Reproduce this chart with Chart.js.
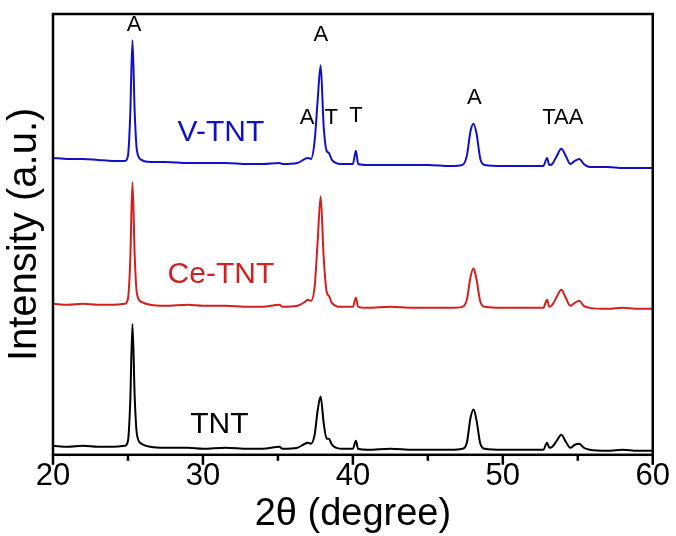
<!DOCTYPE html>
<html>
<head>
<meta charset="utf-8">
<script src="https://cdn.jsdelivr.net/npm/chart.js@4.4.1/dist/chart.umd.min.js"></script>
<style>
  html, body { margin: 0; padding: 0; background: #fff; }
  #wrap { width: 676px; height: 536px; }
</style>
</head>
<body>
<div id="wrap"><canvas id="xrdChart"></canvas></div>
<script>
// 2theta positions (degree)
const twoTheta = [20, 21, 22, 23, 24, 24.8, 25.0, 25.15, 25.3, 25.45, 25.6, 25.9,
  26.5, 27.5, 29, 30, 31.5, 33, 34, 35.1, 35.3, 36.3, 36.8, 37.0, 37.2,
  37.45, 37.65, 37.85, 38.05, 38.25, 38.4, 38.6, 39.2, 40.0, 40.2, 40.35, 41,
  42.5, 44, 45, 46.5, 47.3, 47.6, 47.85, 48.05, 48.25, 48.5, 48.8,
  50, 51.5, 52.7, 52.95, 53.1, 53.3, 53.6, 53.9, 54.2, 54.5, 54.8, 55.1,
  55.4, 55.8, 57, 58, 59, 60];

// intensities (a.u., as stacked in the figure)
const tnt = [9, 8, 9, 8, 8, 9, 14, 52, 130, 57, 20, 11,
  8, 7, 7, 6, 7, 6, 6, 8, 6, 7, 11, 12, 11,
  20, 44, 58, 32, 16, 16, 10, 6, 6, 14, 6, 5,
  6, 5, 5, 5, 6, 12, 37, 45, 34, 11, 6,
  5, 5, 5, 12, 7, 8, 14, 20, 13, 7, 10, 11,
  7, 5, 4, 5, 4, 4];
const ceTnt = [150, 149, 150, 149, 149, 150, 155, 192, 271, 197, 160, 152,
  149, 148, 149, 148, 148, 147, 147, 149, 147, 148, 152, 154, 153,
  167, 212, 257, 197, 162, 158, 151, 147, 147, 156, 147, 146,
  147, 146, 146, 146, 147, 154, 177, 185, 174, 152, 147,
  146, 146, 146, 154, 147, 149, 157, 164, 156, 148, 151, 153,
  148, 146, 145, 146, 145, 145];
const vTnt = [295, 294, 294, 293, 292, 292, 297, 337, 412, 340, 302, 293,
  291, 291, 290, 290, 290, 289, 289, 290, 289, 290, 294, 295, 294,
  312, 352, 387, 327, 302, 300, 293, 289, 289, 302, 289, 288,
  288, 288, 288, 287, 288, 297, 322, 329, 319, 294, 288,
  287, 287, 287, 295, 288, 289, 297, 304, 297, 289, 292, 294,
  289, 286, 286, 285, 285, 285];

const xTicks = [20, 30, 40, 50, 60];

// phase labels: A = anatase, T = titanate
const phaseText = ['A', 'A', 'A', 'T', 'T', 'A', 'TAA'];
const phaseX = [25.4, 37.87, 36.95, 38.55, 40.2, 48.1, 54.0];
const phaseY = [427, 417, 335, 335, 337, 355, 335];

const sampleNames = ['V-TNT', 'Ce-TNT', 'TNT'];
const sampleX = [31.2, 31.2, 31.1];
const sampleY = [320, 179, 30];
const sampleColors = ['#1010c8', '#d41f1f', '#000000'];

function pts(ys) {
  return twoTheta.map((x, i) => ({ x: x, y: ys[i] }));
}

const framePlugin = {
  id: 'frame',
  afterDraw(chart) {
    const ctx = chart.ctx;
    const a = chart.chartArea;
    const xs = chart.scales.x;
    const ys = chart.scales.y;
    ctx.save();
    ctx.strokeStyle = '#000';
    ctx.lineWidth = 2.5;
    ctx.strokeRect(a.left, a.top, a.right - a.left, a.bottom - a.top);
    // bottom ticks, major every 10, minor every 5
    for (let v = 20; v <= 60; v += 5) {
      const px = xs.getPixelForValue(v);
      const len = v % 10 === 0 ? 10 : 6;
      ctx.beginPath();
      ctx.moveTo(px, a.bottom);
      ctx.lineTo(px, a.bottom + len);
      ctx.stroke();
    }
    // annotations
    ctx.textAlign = 'center';
    ctx.textBaseline = 'middle';
    ctx.fillStyle = '#000';
    ctx.font = '22px "Liberation Sans", Arial, sans-serif';
    phaseText.forEach((t, i) => {
      ctx.fillText(t, xs.getPixelForValue(phaseX[i]), ys.getPixelForValue(phaseY[i]));
    });
    ctx.font = '30px "Liberation Sans", Arial, sans-serif';
    sampleNames.forEach((t, i) => {
      ctx.fillStyle = sampleColors[i];
      ctx.fillText(t, xs.getPixelForValue(sampleX[i]), ys.getPixelForValue(sampleY[i]));
    });
    ctx.restore();
  }
};

const ctx = document.getElementById('xrdChart').getContext('2d');
new Chart(ctx, {
  type: 'line',
  data: {
    datasets: [
      { label: 'V-TNT', data: pts(vTnt), borderColor: sampleColors[0] },
      { label: 'Ce-TNT', data: pts(ceTnt), borderColor: sampleColors[1] },
      { label: 'TNT', data: pts(tnt), borderColor: sampleColors[2] }
    ]
  },
  options: {
    responsive: true,
    maintainAspectRatio: false,
    animation: false,
    layout: { padding: { top: 14, right: 5, bottom: 4, left: 0 } },
    datasets: {
      line: {
        borderWidth: 2,
        pointRadius: 0,
        fill: false,
        cubicInterpolationMode: 'monotone'
      }
    },
    plugins: {
      legend: { display: false },
      tooltip: { enabled: false }
    },
    scales: {
      x: {
        type: 'linear',
        min: 20,
        max: 60,
        afterBuildTicks: (scale) => { scale.ticks = xTicks.map(v => ({ value: v })); },
        grid: { display: false, drawTicks: false },
        border: { display: false },
        ticks: {
          color: '#000',
          padding: 6,
          maxRotation: 0,
          font: { family: '"Liberation Sans", Arial, sans-serif', size: 31, lineHeight: 1 }
        },
        title: {
          display: true,
          text: '2θ (degree)',
          color: '#000',
          padding: { top: 0, bottom: 0 },
          font: { family: '"Liberation Sans", Arial, sans-serif', size: 38, lineHeight: 0.9 }
        }
      },
      y: {
        min: 0,
        max: 438,
        grid: { display: false, drawTicks: false },
        border: { display: false },
        ticks: { display: false },
        title: {
          display: true,
          text: 'Intensity (a.u.)',
          color: '#000',
          padding: { top: 5, bottom: 8 },
          font: { family: '"Liberation Sans", Arial, sans-serif', size: 40, lineHeight: 1 }
        }
      }
    }
  },
  plugins: [framePlugin]
});
</script>
</body>
</html>
